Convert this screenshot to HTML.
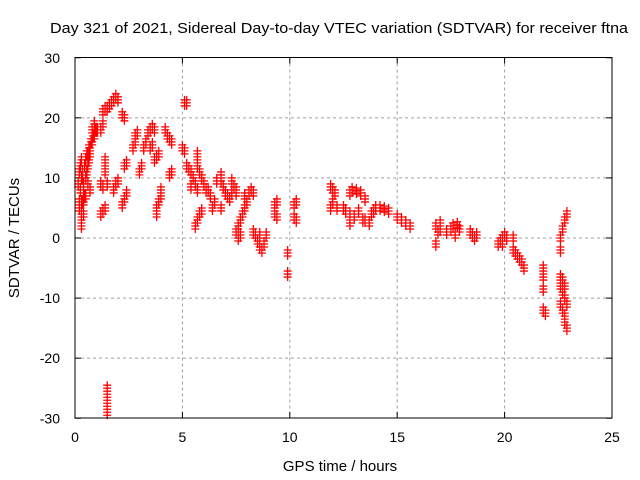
<!DOCTYPE html>
<html><head><meta charset="utf-8"><style>
body{margin:0;background:#fff}
svg{display:block;font-family:"Liberation Sans",sans-serif}
</style></head><body>
<svg id="c" width="640" height="480">
<text x="339" y="33" text-anchor="middle" font-size="15" textLength="578" lengthAdjust="spacingAndGlyphs">Day 321 of 2021, Sidereal Day-to-day VTEC variation (SDTVAR) for receiver ftna</text>
<text x="340" y="471" text-anchor="middle" font-size="15">GPS time / hours</text>
<text transform="translate(19,238) rotate(-90)" text-anchor="middle" font-size="15">SDTVAR / TECUs</text>
<g id="grid"></g>
<g id="ticks"></g>
<g id="pts"></g>
<rect x="75" y="57.5" width="537" height="360.5" fill="none" stroke="#000"/>
</svg>
<script>
const xTicks=[0,5,10,15,20,25];
const yTicks=[-30,-20,-10,0,10,20,30];
const times=[0.15,0.2,0.25,0.3,0.35,0.4,0.45,0.5,0.55,0.6,0.65,0.7,0.75,0.8,0.85,0.9,0.95,1.0,1.05,0.2,0.3,0.3,0.3,0.3,0.35,0.4,0.4,0.6,0.7,0.5,0.55,0.6,0.65,0.7,0.45,0.4,0.35,0.25,0.2,0.3,0.5,0.8,0.9,
1.2,1.3,1.4,1.3,1.5,1.4,1.4,1.4,1.2,1.3,1.2,1.3,1.4,1.5,1.6,1.7,1.8,1.9,2.0,1.5,1.5,1.5,1.5,1.8,1.9,2.0,2.2,2.3,2.2,2.3,2.4,2.3,2.4,2.7,2.8,2.9,2.8,3.0,3.1,3.2,3.3,3.4,3.5,3.6,3.7,3.5,3.6,3.7,3.8,3.9,3.8,3.8,3.9,4.0,4.0,4.2,4.3,4.4,4.5,4.4,4.5,5.0,5.1,5.1,5.2,
5.2,5.3,5.4,5.5,5.6,5.7,5.4,5.7,5.7,5.7,5.8,5.9,6.0,6.1,6.2,6.3,5.6,5.7,5.8,5.9,6.4,6.5,6.8,6.6,6.8,6.8,6.9,7.0,7.1,7.2,7.3,7.4,7.5,7.3,7.5,7.5,7.6,7.7,7.8,7.9,7.6,7.7,7.9,8.0,8.1,8.2,8.3,8.3,8.4,8.5,8.6,8.7,8.8,8.9,8.6,9.3,9.4,9.3,9.4,9.9,9.9,10.2,10.3,10.2,10.3,
11.9,12.0,12.1,11.9,12.0,12.2,12.5,12.6,12.8,12.8,12.9,13.1,13.3,12.8,13.0,13.2,13.4,13.5,13.5,13.7,13.8,13.9,14.0,14.2,14.4,14.6,15.0,15.2,15.4,15.6,16.8,16.9,17.0,16.8,17.0,17.3,17.5,17.6,17.8,17.9,17.7,18.4,18.5,18.6,18.7,19.7,19.8,19.9,20.0,20.1,19.9,20.4,20.4,20.5,20.6,20.7,20.8,20.9,21.8,21.8,21.8,21.8,21.9,22.6,22.7,22.8,22.9,22.6,22.7,22.8,22.8,22.9,22.6,22.7,22.8,22.6,22.6,22.7,22.8,22.9];
const values=[9,11,12,13,10,8,12,13,14,14,15,15,16,16,17,17,18,18,18,5,6,4,3,2,6,6,4,9,8,10,11,12,13,14,7,9,11,8,6,10,7,18,19,
18,19,21.5,21,21.5,12.5,13,11,9,8.5,4,4.5,5,9,22,22.5,23,23.5,23,-25,-26.5,-28,-29,8,9,9.5,20.5,20,5.5,6.5,7.5,12,12.5,15,16,17.5,17,11,12,15,16,17.5,18,18.5,18,15,15.5,13,13.5,14,4,5,6,7,8,18,17,16.5,16,10.5,11,15,14.5,22.5,22.5,
12,11.5,11,10,9,8,8.5,14,13,12,11,10,9,8,8,7,2,3,4,4.5,5,6,5,9.5,10.5,9.5,8.5,7.5,7,6.5,7.5,8.5,8,9.5,7.5,1,2,3,4,5,0,0.5,7,6,7.5,8,7.5,1,0.5,-0.5,-1.5,-2,-1,0.5,0.5,5.5,6,4,3.5,-2.5,-6,5.5,6,3.5,3,
8.5,8,7.5,5,6,5,5,4.5,4,7.5,8,7.8,7.5,2.5,3.5,4.5,3,6.5,3,2.5,4,4.5,5,5,4.8,4.5,3.5,3,2.5,2,-1,1,1.5,2,2.5,1,1.5,2,2.2,1.5,0.5,1,0.5,0,0.5,-1,-0.5,0,0.5,0,-1,0,-2,-2.5,-3,-3.5,-4,-5,-5,-6.5,-8.5,-12,-12.5,-8,-9,-10,-11,-11,-12,-13,-14,-15,-6.5,-7,-8,-2,0,1.5,3,4];
const X=t=>75+t*(537/25), Y=v=>238-v*(360.5/60);
const NS='http://www.w3.org/2000/svg';
const g=document.getElementById('grid'),tk=document.getElementById('ticks'),svg=document.getElementById('c'),P=document.getElementById('pts');
function mk(p,tag,a){const e=document.createElementNS(NS,tag);for(const k in a)e.setAttribute(k,a[k]);p.appendChild(e);return e;}
xTicks.forEach(t=>{const x=X(t);
 if(t>0&&t<25){const l=mk(g,'line',{x1:x,x2:x,y1:57.5,y2:418,stroke:'#a0a0a0','stroke-dasharray':'3,3'});
 
 }
 mk(tk,'line',{x1:x,x2:x,y1:418,y2:412,stroke:'#000'});mk(tk,'line',{x1:x,x2:x,y1:57.5,y2:63.5,stroke:'#000'});
 const tx=mk(svg,'text',{x:x,y:442,'text-anchor':'middle','font-size':14});tx.textContent=t;
 
 });
yTicks.forEach(v=>{const y=Y(v);
 if(v>-30&&v<30){const l=mk(g,'line',{x1:75,x2:612,y1:y,y2:y,stroke:'#a0a0a0','stroke-dasharray':'3,3'});
 
 }
 mk(tk,'line',{x1:75,x2:81,y1:y,y2:y,stroke:'#000'});mk(tk,'line',{x1:612,x2:606,y1:y,y2:y,stroke:'#000'});
 const tx=mk(svg,'text',{x:60,y:y+5,'text-anchor':'end','font-size':14});tx.textContent=v;
 
 });
let d='';
times.forEach((t,i)=>{const x=X(t),y=Y(values[i]);
 for(let k=-1;k<=1;k++){const yy=y+k*3;d+=`M${x-4},${yy}h8M${x},${yy-4}v8`;}});
const path=mk(P,'path',{d:d,stroke:'#f00','stroke-width':1.3,fill:'none'});


</script>
</body></html>
